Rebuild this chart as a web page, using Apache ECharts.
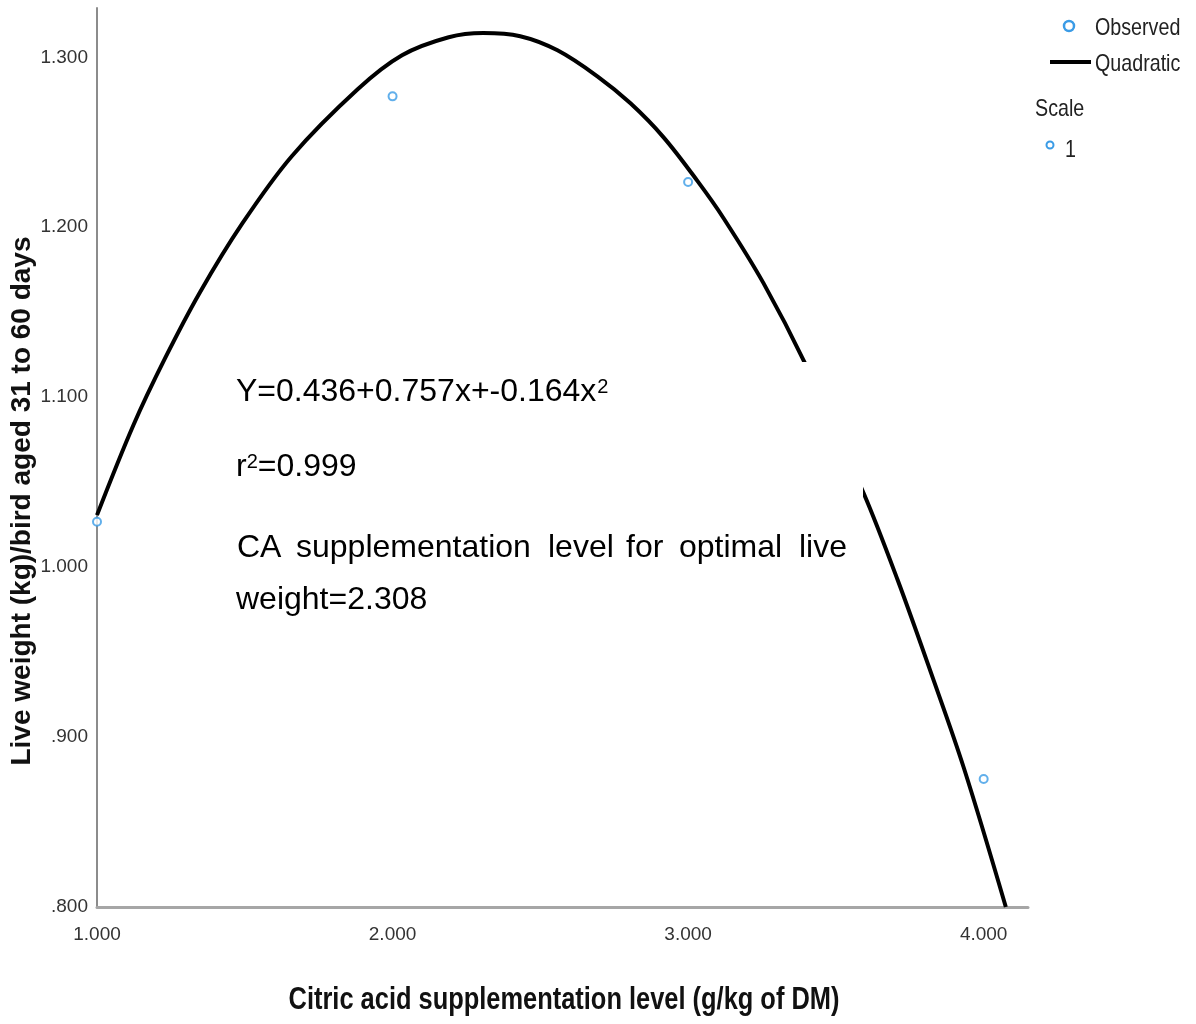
<!DOCTYPE html>
<html><head><meta charset="utf-8">
<script src="https://cdn.jsdelivr.net/npm/echarts@6/dist/echarts.min.js"></script>
<style>html,body{margin:0;padding:0;background:#fff}#c{width:1196px;height:1024px}</style>
</head><body><div id="c"></div>
<script>
// ---- data ----
const xTickLabels = ['1.000', '2.000', '3.000', '4.000'];
const yTickLabels = ['.800', '.900', '1.000', '1.100', '1.200', '1.300'];
const observedX = [1, 2, 3, 4];
const observedY = [1.0267, 1.277, 1.2266, 0.8753];
const quadX = [1.000, 1.123, 1.230, 1.349, 1.490, 1.659, 1.882, 2.032, 2.190, 2.307, 2.432, 2.558, 2.693, 2.805, 2.917, 3.032, 3.120, 3.255, 3.397, 3.594, 3.709, 3.821, 3.933, 4.075];
const quadY = [1.0306, 1.0835, 1.1228, 1.1619, 1.2018, 1.2418, 1.2812, 1.3012, 1.3118, 1.3143, 1.3124, 1.3041, 1.2888, 1.2729, 1.2529, 1.2271, 1.2053, 1.1671, 1.1194, 1.0435, 0.9924, 0.9382, 0.8818, 0.8000];
const eqText = 'Y=0.436+0.757x+-0.164x';
const r2Text = '=0.999';
const optWords = ['CA', 'supplementation', 'level', 'for', 'optimal', 'live'];
const optLine2 = 'weight=2.308';
const xTitle = 'Citric acid supplementation level (g/kg of DM)';
const yTitle = 'Live weight (kg)/bird aged 31 to 60 days';
const legendNames = ['Observed', 'Quadratic'];
const scaleTitle = 'Scale';
const scaleItem = '1';

// ---- styles ----
const SANS = "'Liberation Sans',Arial,sans-serif";
const BLUE = '#3a9be6';
const NARROW_X = 0.82; // horizontal squeeze to mimic the condensed font

const X_MIN = 1, X_MAX = 4.15, X_INT = 1;
const Y_MIN = 0.8, Y_MAX = 1.329, Y_INT = 0.1;

function tickFmt(labels, min, step) {
  return function (v) {
    const i = Math.round((v - min) / step);
    if (Math.abs(v - (min + i * step)) > 1e-6) return '';
    return labels[i] !== undefined ? labels[i] : '';
  };
}

const mctx = document.createElement('canvas').getContext('2d');
function tw(txt, size) { mctx.font = size + 'px ' + SANS; return mctx.measureText(txt).width; }

const BOX_FS = 32, SUP_FS = 20, TX = 236;
const graphics = [];
graphics.push({ type: 'rect', z: 50, shape: { x: 218, y: 362, width: 645, height: 265 }, style: { fill: '#ffffff' } });
function addText(txt, x, y, size, opts) {
  graphics.push({ type: 'text', z: 60, x: x, y: y,
    style: Object.assign({ text: txt, fontSize: size, fontFamily: SANS, fill: '#000', verticalAlign: 'middle', align: 'left' }, opts || {}) });
}
// line 1
addText(eqText, TX, 392, BOX_FS);
addText('2', TX + tw(eqText, BOX_FS) + 1, 377, SUP_FS, { verticalAlign: 'top' });
// line 2
const wr = tw('r', BOX_FS);
addText('r', TX, 467, BOX_FS);
addText('2', TX + wr, 452, SUP_FS, { verticalAlign: 'top' });
addText(r2Text, TX + wr + tw('2', SUP_FS), 467, BOX_FS);
// line 3 (justified, word starts as in the reference)
const wordX = [237, 296, 548, 626, 679, 799];
optWords.forEach((w, i) => addText(w, wordX[i], 548, BOX_FS));
addText(optLine2, TX, 600, BOX_FS);

// axis titles
graphics.push({ type: 'text', x: 22, y: 501, rotation: Math.PI / 2,
  style: { text: yTitle, fontSize: 28, fontWeight: 'bold', fontFamily: SANS, fill: '#111', align: 'center', verticalAlign: 'middle' } });
graphics.push({ type: 'text', x: 564, y: 1000, scaleX: NARROW_X,
  style: { text: xTitle, fontSize: 31, fontWeight: 'bold', fontFamily: SANS, fill: '#111', align: 'center', verticalAlign: 'middle' } });

// legend
function legText(txt, x, y) {
  graphics.push({ type: 'text', x: x, y: y, scaleX: NARROW_X,
    style: { text: txt, fontSize: 24, fontFamily: SANS, fill: '#222', verticalAlign: 'middle', align: 'left' } });
}
graphics.push({ type: 'circle', shape: { cx: 1069, cy: 26, r: 5 }, style: { fill: '#fff', stroke: BLUE, lineWidth: 2.5 } });
legText(legendNames[0], 1095, 28);
graphics.push({ type: 'line', shape: { x1: 1050, y1: 62, x2: 1091, y2: 62 }, style: { stroke: '#000', lineWidth: 4 } });
legText(legendNames[1], 1095, 64);
legText(scaleTitle, 1035, 109);
graphics.push({ type: 'circle', shape: { cx: 1050, cy: 145, r: 3.5 }, style: { fill: '#fff', stroke: BLUE, lineWidth: 2 } });
legText(scaleItem, 1065, 150);

const chart = echarts.init(document.getElementById('c'), null, { renderer: 'canvas' });
chart.setOption({
  backgroundColor: '#ffffff',
  animation: false,
  grid: { left: 97, top: 8, width: 931, height: 899, containLabel: false },
  xAxis: {
    type: 'value', min: X_MIN, max: X_MAX, interval: X_INT,
    axisLine: { show: true, lineStyle: { color: '#a6a6a6', width: 3 } },
    axisTick: { show: false }, splitLine: { show: false },
    axisLabel: { margin: 18, fontSize: 19, fontFamily: SANS, color: '#333', showMaxLabel: false,
      formatter: tickFmt(xTickLabels, X_MIN, X_INT) }
  },
  yAxis: {
    type: 'value', min: Y_MIN, max: Y_MAX, interval: Y_INT,
    axisLine: { show: true, lineStyle: { color: '#8c8c8c', width: 2 } },
    axisTick: { show: false }, splitLine: { show: false },
    axisLabel: { margin: 9, fontSize: 19, fontFamily: SANS, color: '#333', showMaxLabel: false,
      formatter: tickFmt(yTickLabels, Y_MIN, Y_INT) }
  },
  series: [
    { name: 'Quadratic', type: 'line', smooth: 0.35, showSymbol: false, z: 2,
      lineStyle: { color: '#000', width: 4 },
      data: quadX.map((x, i) => [x, quadY[i]]) },
    { name: 'Observed', type: 'scatter', symbol: 'circle', symbolSize: 8, z: 3,
      itemStyle: { color: '#fff', borderColor: BLUE, borderWidth: 2 },
      data: observedX.map((x, i) => [x, observedY[i]]) }
  ],
  graphic: { elements: graphics }
});
</script></body></html>
